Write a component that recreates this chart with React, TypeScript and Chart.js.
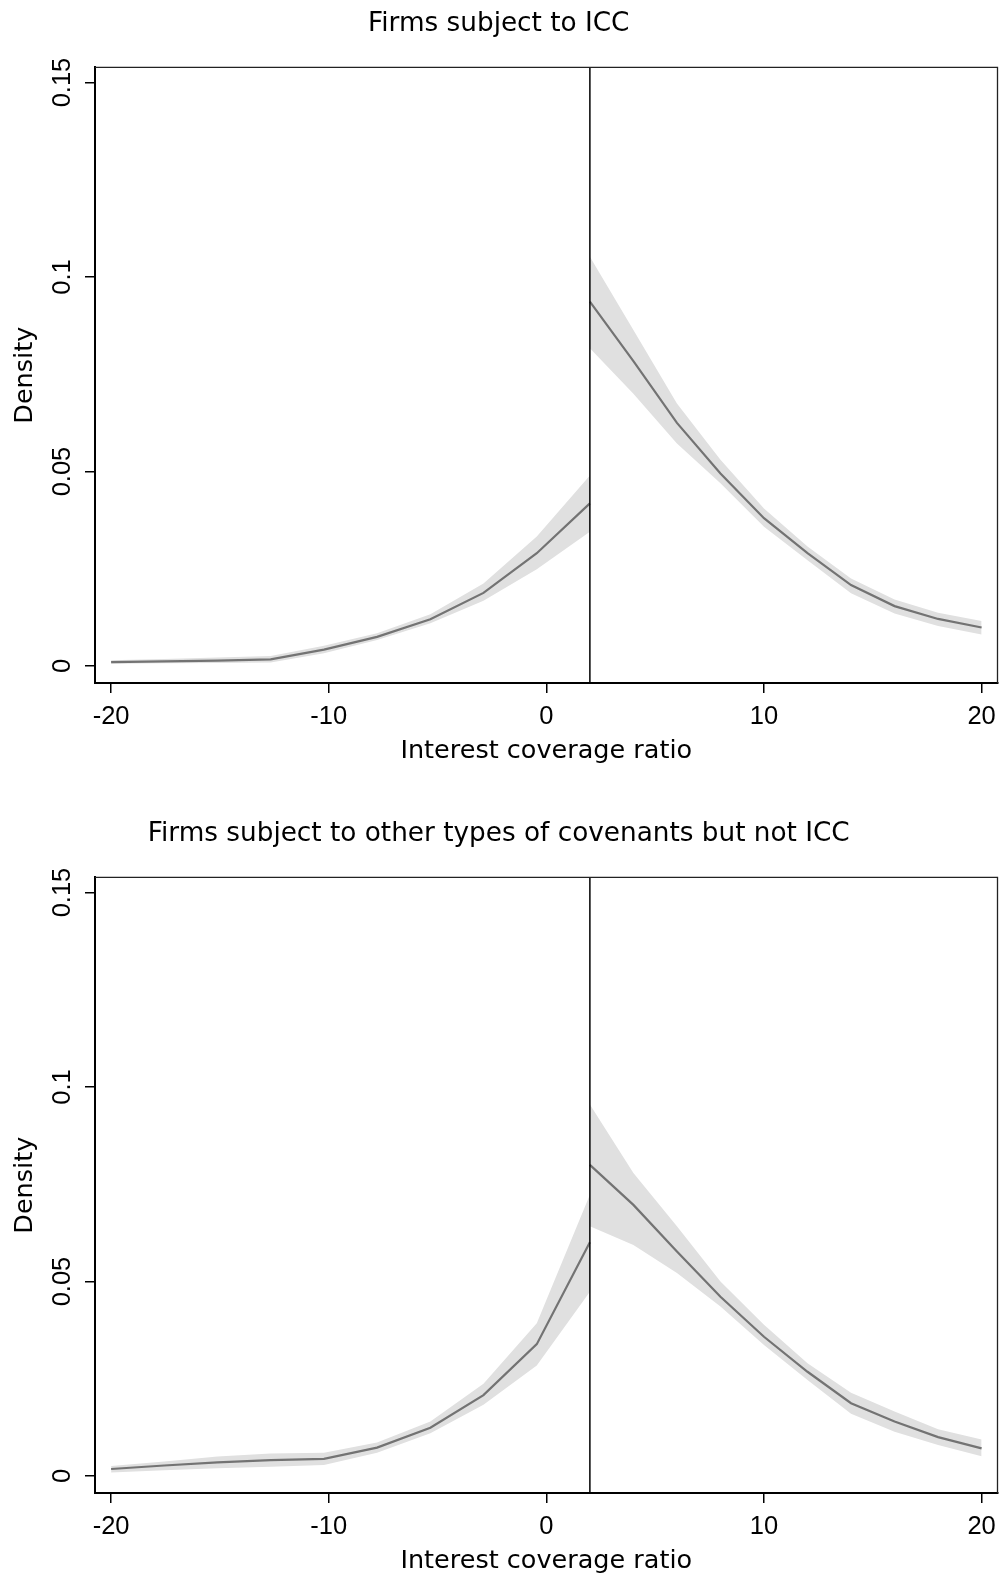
import React, { useEffect, useRef } from "react";
import { Chart, registerables } from "chart.js";

Chart.register(...registerables);

// ---- axes ----
const xTickValues = [-20, -10, 0, 10, 20];
const xTickLabels = ["-20", "-10", "0", "10", "20"];
const yTickValues = [0, 0.05, 0.1, 0.15];
const yTickLabels = ["0", "0.05", "0.1", "0.15"];
const threshold = 2;
const xMin = -20.74;
const xMax = 20.73;
const yMin = -0.00437;
const yMax = 0.15388;

// ---- grids (interest coverage ratio) ----
const leftX = [-20, -17.56, -15.11, -12.67, -10.22, -7.78, -5.33, -2.89, -0.44, 2];
const rightX = [2, 4, 6, 8, 10, 12, 14, 16, 18, 20];

// ---- panel 1: Firms subject to ICC ----
const iccLeftMid = [0.001, 0.0012, 0.0014, 0.0017, 0.0042, 0.0075, 0.012, 0.0188, 0.029, 0.0418];
const iccLeftUp = [0.0015, 0.0018, 0.0022, 0.0026, 0.0052, 0.0084, 0.0133, 0.0212, 0.0333, 0.049];
const iccLeftLo = [0.0006, 0.0007, 0.0008, 0.0009, 0.0033, 0.0067, 0.011, 0.0168, 0.0249, 0.0345];
const iccRightMid = [0.0937, 0.0784, 0.0625, 0.0495, 0.038, 0.029, 0.0208, 0.0154, 0.0121, 0.0099];
const iccRightUp = [0.1052, 0.0864, 0.0675, 0.053, 0.0405, 0.0307, 0.0225, 0.0171, 0.0137, 0.0116];
const iccRightLo = [0.0817, 0.07, 0.0572, 0.047, 0.0358, 0.0272, 0.0187, 0.0135, 0.0103, 0.0081];

// ---- panel 2: other covenants but not ICC ----
const othLeftMid = [0.0018, 0.0027, 0.0035, 0.0041, 0.0044, 0.0073, 0.0124, 0.0208, 0.0339, 0.0601];
const othLeftUp = [0.0026, 0.0037, 0.005, 0.0058, 0.006, 0.0086, 0.014, 0.0237, 0.0393, 0.0723];
const othLeftLo = [0.0009, 0.0015, 0.002, 0.0024, 0.0028, 0.006, 0.011, 0.0183, 0.0284, 0.0474];
const othRightMid = [0.08, 0.0697, 0.0577, 0.0461, 0.0358, 0.0268, 0.0187, 0.014, 0.01, 0.0071];
const othRightUp = [0.0955, 0.0779, 0.0642, 0.05, 0.0389, 0.029, 0.0214, 0.0166, 0.012, 0.0094];
const othRightLo = [0.0642, 0.0594, 0.0522, 0.0436, 0.0337, 0.0247, 0.016, 0.0114, 0.008, 0.0051];

const titleTop = "Firms subject to ICC";
const titleBottom = "Firms subject to other types of covenants but not ICC";
const xTitle = "Interest coverage ratio";
const yTitle = "Density";

const TITLE_FONT = "'DejaVu Sans', sans-serif";
const TICK_FONT = "'Liberation Sans', Arial, sans-serif";
const LINE_COLOR = "#737373";
const BAND_COLOR = "#e0e0e0";

const pts = (xs: number[], ys: number[]) => xs.map((x, i) => ({ x, y: ys[i] }));

const framePlugin = {
  id: "frame",
  afterDatasetsDraw(chart: any) {
    const { ctx, chartArea: a } = chart;
    ctx.save();
    ctx.strokeStyle = "#222";
    ctx.lineWidth = 1.3;
    ctx.beginPath();
    ctx.moveTo(a.left, a.top);
    ctx.lineTo(a.right, a.top);
    ctx.lineTo(a.right, a.bottom);
    ctx.stroke();
    ctx.restore();
  },
};

type PanelProps = {
  title: string;
  top: number;
  lMid: number[];
  lUp: number[];
  lLo: number[];
  rMid: number[];
  rUp: number[];
  rLo: number[];
};

function Panel({ title, top, lMid, lUp, lLo, rMid, rUp, rLo }: PanelProps) {
  const ref = useRef<HTMLCanvasElement | null>(null);
  useEffect(() => {
    if (!ref.current) return;
    const lineDs = (data: any) => ({
      data,
      borderColor: LINE_COLOR,
      borderWidth: 2.2,
      pointRadius: 0,
      fill: false,
      tension: 0,
    });
    const bandDs = (data: any, fill: any) => ({
      data,
      borderColor: "rgba(0,0,0,0)",
      borderWidth: 0,
      backgroundColor: BAND_COLOR,
      pointRadius: 0,
      fill,
      tension: 0,
    });
    const grid = {
      display: true,
      drawOnChartArea: false,
      drawTicks: true,
      tickLength: 10,
      color: "#000",
      lineWidth: 1.5,
    };
    const chart = new Chart(ref.current, {
      type: "line",
      data: {
        datasets: [
          {
            data: [
              { x: threshold, y: yMin },
              { x: threshold, y: yMax },
            ],
            borderColor: "#000",
            borderWidth: 1.5,
            pointRadius: 0,
            fill: false,
          },
          lineDs(pts(leftX, lMid)),
          lineDs(pts(rightX, rMid)),
          bandDs(pts(leftX, lUp), "+1"),
          bandDs(pts(leftX, lLo), false),
          bandDs(pts(rightX, rUp), "+1"),
          bandDs(pts(rightX, rLo), false),
        ] as any,
      },
      options: {
        animation: false,
        responsive: false,
        events: [],
        layout: { padding: { top: 0, left: 0, right: 3.5, bottom: 0 } },
        plugins: {
          legend: { display: false },
          tooltip: { enabled: false },
          title: {
            display: true,
            text: title,
            color: "#000",
            font: { family: TITLE_FONT, size: 26.3, weight: "normal" },
            padding: { top: 8.2, bottom: 27.7 },
          },
        },
        scales: {
          x: {
            type: "linear",
            min: xMin,
            max: xMax,
            afterBuildTicks: (s: any) => {
              s.ticks = xTickValues.map((v) => ({ value: v }));
            },
            afterFit: (s: any) => {
              s.height = 85;
              s.paddingLeft = 0;
              s.paddingRight = 0;
            },
            ticks: {
              callback: (_v: any, i: number) => xTickLabels[i],
              color: "#000",
              font: { family: TICK_FONT, size: 25.5 },
              padding: 8.5,
              maxRotation: 0,
              autoSkip: false,
            },
            grid,
            border: { display: true, color: "#000", width: 2 },
            title: {
              display: true,
              text: xTitle,
              color: "#000",
              font: { family: TITLE_FONT, size: 25.5 },
              padding: { top: 0, bottom: 1 },
            },
          },
          y: {
            type: "linear",
            min: yMin,
            max: yMax,
            afterBuildTicks: (s: any) => {
              s.ticks = yTickValues.map((v) => ({ value: v }));
            },
            afterFit: (s: any) => {
              s.width = 95;
            },
            ticks: {
              callback: (_v: any, i: number) => yTickLabels[i],
              color: "#000",
              font: { family: TICK_FONT, size: 25.5 },
              padding: -3,
              minRotation: 90,
              maxRotation: 90,
              crossAlign: "center",
              autoSkip: false,
            },
            grid,
            border: { display: true, color: "#000", width: 2 },
            title: {
              display: true,
              text: yTitle,
              color: "#000",
              font: { family: TITLE_FONT, size: 25.5 },
              padding: { top: 9.7, bottom: 0 },
            },
          },
        },
      } as any,
      plugins: [framePlugin],
    });
    return () => chart.destroy();
  }, []);
  return (
    <canvas
      ref={ref}
      width={1001}
      height={768}
      style={{ position: "absolute", left: 0, top, width: 1001, height: 768, display: "block" }}
    />
  );
}

export default function App() {
  return (
    <div style={{ position: "absolute", left: 0, top: 0, width: 1001, height: 1578, background: "#fff" }}>
      <Panel title={titleTop} top={0} lMid={iccLeftMid} lUp={iccLeftUp} lLo={iccLeftLo} rMid={iccRightMid} rUp={iccRightUp} rLo={iccRightLo} />
      <Panel title={titleBottom} top={810} lMid={othLeftMid} lUp={othLeftUp} lLo={othLeftLo} rMid={othRightMid} rUp={othRightUp} rLo={othRightLo} />
    </div>
  );
}
